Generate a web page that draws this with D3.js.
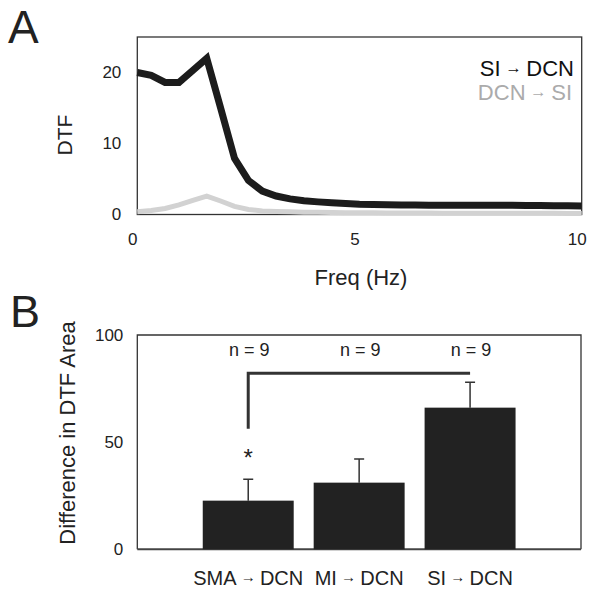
<!DOCTYPE html>
<html>
<head>
<meta charset="utf-8">
<script src="https://cdn.jsdelivr.net/npm/d3@7"></script>
<style>
  body { margin: 0; background: #fff; }
  svg { font-family: "Liberation Sans", Arial, sans-serif; }
</style>
</head>
<body>
<svg id="chart" width="600" height="597"></svg>
<script>
// panel A: DTF spectra
const freqHz = [0, 0.3125, 0.625, 0.9375, 1.25, 1.5625, 1.875, 2.1875, 2.5, 2.8125, 3.125,
  3.4375, 3.75, 4.0625, 4.375, 4.6875, 5, 5.3125, 5.625, 5.9375, 6.25, 6.5625, 6.875,
  7.1875, 7.5, 7.8125, 8.125, 8.4375, 8.75, 9.0625, 9.375, 9.6875, 10];
const dtfSiToDcn = [20.0, 19.6, 18.6, 18.6, 20.3, 22.0, 15.0, 7.9, 4.8, 3.3, 2.6,
  2.2, 1.95, 1.78, 1.65, 1.55, 1.45, 1.4, 1.37, 1.35, 1.33, 1.32, 1.31,
  1.3, 1.3, 1.3, 1.3, 1.29, 1.28, 1.26, 1.24, 1.22, 1.2];
const dtfDcnToSi = [0.4, 0.55, 0.85, 1.35, 2.0, 2.6, 1.9, 1.15, 0.7, 0.5, 0.42,
  0.37, 0.33, 0.3, 0.28, 0.26, 0.24, 0.23, 0.22, 0.21, 0.2, 0.2, 0.19,
  0.19, 0.18, 0.18, 0.17, 0.17, 0.17, 0.16, 0.16, 0.15, 0.15];
const xTicksA = [0, 5, 10];
const yTicksA = [0, 10, 20];

// panel B: difference in DTF area
const sources = ['SMA', 'MI', 'SI'];
const meanDiff = [22.7, 31.1, 66.1];
const errDiff = [10.0, 11.0, 11.8];
const nLabels = ['n = 9', 'n = 9', 'n = 9'];
const yTicksB = [0, 50, 100];
const bracketLevel = 82.2;
const bracketDrop = 56.3;
const starLevel = 45.5;

const svg = d3.select('#chart');
const ink = '#222';

/* ---------- panel A ---------- */
const xA = d3.scaleLinear().domain([0, 10]).range([137.3, 581.7]);
const yA = d3.scaleLinear().domain([0, 25]).range([214.5, 37]);

const gA = svg.append('g');

gA.append('rect')
  .attr('x', xA(0)).attr('y', yA(25))
  .attr('width', xA(10) - xA(0)).attr('height', yA(0) - yA(25))
  .attr('fill', 'none').attr('stroke', '#333').attr('stroke-width', 1.3);

const line = (vals) => d3.line()
  .x((d, i) => xA(freqHz[i]))
  .y(d => yA(d))(vals);

gA.append('path')
  .attr('d', line(dtfDcnToSi))
  .attr('fill', 'none').attr('stroke', '#d2d2d2').attr('stroke-width', 5);

gA.append('path')
  .attr('d', line(dtfSiToDcn))
  .attr('fill', 'none').attr('stroke', '#1c1c1c').attr('stroke-width', 7);

gA.append('g')
  .attr('transform', `translate(${xA(0)},0)`)
  .call(d3.axisLeft(yA).tickValues(yTicksA).tickSize(0).tickPadding(16))
  .call(g => g.select('.domain').remove())
  .selectAll('text')
    .attr('font-size', 17).attr('fill', ink).attr('font-family', null);

gA.append('g')
  .attr('transform', `translate(0,${yA(0)})`)
  .call(d3.axisBottom(xA).tickValues(xTicksA).tickSize(0).tickPadding(18))
  .call(g => g.select('.domain').remove())
  .selectAll('text')
    .attr('font-size', 17).attr('fill', ink).attr('font-family', null)
    .attr('dx', -5);

gA.append('text')
  .attr('transform', `translate(72,135) rotate(-90)`)
  .attr('text-anchor', 'middle')
  .attr('font-size', 21).attr('fill', ink)
  .text('DTF');

gA.append('text')
  .attr('x', 361).attr('y', 285)
  .attr('text-anchor', 'middle')
  .attr('font-size', 22).attr('fill', ink)
  .text('Freq (Hz)');

function arrowLabel(sel, from, to) {
  sel.append('tspan').text(from);
  sel.append('tspan').attr('font-size', '0.75em').attr('dy', -3).text(' \u2192 ');
  sel.append('tspan').attr('dy', 3).text(to);
}

gA.append('text')
  .attr('x', 574).attr('y', 76)
  .attr('text-anchor', 'end')
  .attr('font-size', 22).attr('fill', '#111')
  .call(arrowLabel, 'SI', 'DCN');

gA.append('text')
  .attr('x', 572).attr('y', 100)
  .attr('text-anchor', 'end')
  .attr('font-size', 22).attr('fill', '#ababab')
  .call(arrowLabel, 'DCN', 'SI');

svg.append('text')
  .attr('x', 8).attr('y', 43)
  .attr('font-size', 46).attr('fill', ink)
  .text('A');

/* ---------- panel B ---------- */
const xB = d3.scaleLinear().domain([0, 4]).range([137.3, 581]);
const yB = d3.scaleLinear().domain([0, 100]).range([549.3, 335]);
const barW = 0.82;

const gB = svg.append('g');

gB.append('path')
  .attr('d', `M${xB(0)},${yB(0)}V${yB(100)}H${xB(4)}V${yB(0)}`)
  .attr('fill', 'none').attr('stroke', '#333').attr('stroke-width', 1.3);

gB.append('line')
  .attr('x1', xB(0)).attr('x2', xB(4))
  .attr('y1', yB(0)).attr('y2', yB(0))
  .attr('stroke', '#444').attr('stroke-width', 2);

// error bars (upper only)
gB.selectAll('.err')
  .data(sources)
  .enter()
  .append('path')
    .attr('class', 'err')
    .attr('d', (d, i) => {
      const cx = xB(i + 1);
      const top = yB(meanDiff[i] + errDiff[i]);
      return `M${cx},${yB(meanDiff[i])}V${top}M${cx - 5},${top}H${cx + 5}`;
    })
    .attr('fill', 'none').attr('stroke', '#333').attr('stroke-width', 1.5);

gB.selectAll('.bar')
  .data(sources)
  .enter()
  .append('rect')
    .attr('class', 'bar')
    .attr('x', (d, i) => xB(i + 1 - barW / 2))
    .attr('width', xB(barW) - xB(0))
    .attr('y', (d, i) => yB(meanDiff[i]))
    .attr('height', (d, i) => yB(0) - yB(meanDiff[i]))
    .attr('fill', '#222');

gB.append('path')
  .attr('d', `M${xB(1)},${yB(bracketDrop)}V${yB(bracketLevel)}H${xB(3)}`)
  .attr('fill', 'none').attr('stroke', '#333').attr('stroke-width', 3);

gB.append('text')
  .attr('x', xB(1)).attr('y', yB(starLevel) + 14)
  .attr('text-anchor', 'middle')
  .attr('font-size', 24).attr('fill', ink)
  .text('*');

gB.selectAll('.nlab')
  .data(nLabels)
  .enter()
  .append('text')
    .attr('class', 'nlab')
    .attr('x', (d, i) => xB(i + 1) + 1)
    .attr('y', yB(90))
    .attr('text-anchor', 'middle')
    .attr('font-size', 18).attr('fill', ink)
    .text(d => d);

gB.append('g')
  .attr('transform', `translate(${xB(0)},0)`)
  .call(d3.axisLeft(yB).tickValues(yTicksB).tickSize(0).tickPadding(14))
  .call(g => g.select('.domain').remove())
  .selectAll('text')
    .attr('font-size', 17).attr('fill', ink).attr('font-family', null);

gB.selectAll('.cat')
  .data(sources)
  .enter()
  .append('text')
    .attr('class', 'cat')
    .attr('x', (d, i) => xB(i + 1))
    .attr('y', 585)
    .attr('text-anchor', 'middle')
    .attr('font-size', 20).attr('fill', ink)
    .each(function(d) { d3.select(this).call(arrowLabel, d, 'DCN'); });

gB.append('text')
  .attr('transform', `translate(75,433) rotate(-90)`)
  .attr('text-anchor', 'middle')
  .attr('font-size', 22).attr('fill', ink)
  .text('Difference in DTF Area');

svg.append('text')
  .attr('x', 10).attr('y', 327)
  .attr('font-size', 45).attr('fill', ink)
  .text('B');
</script>
</body>
</html>
